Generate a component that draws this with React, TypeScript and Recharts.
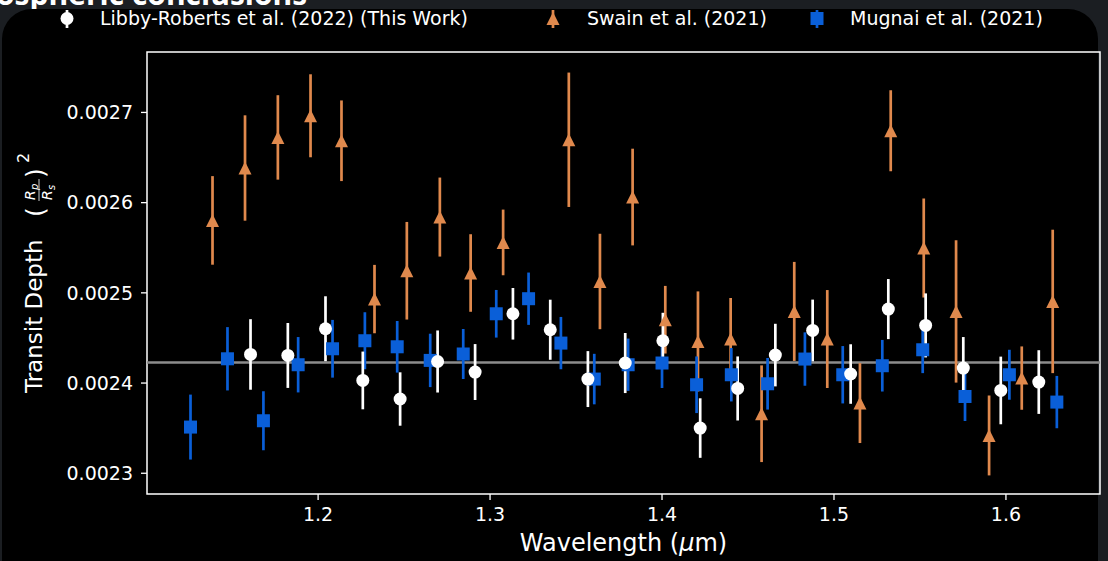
import React from 'react';
import { ScatterChart, Scatter, XAxis, YAxis, ErrorBar, ReferenceLine, ReferenceArea } from 'recharts';

// Libby-Roberts et al. (2022) (This Work)
const libbyWavelength = [1.1607, 1.1824, 1.2043, 1.2260, 1.2477, 1.2695, 1.2913, 1.3133, 1.3350, 1.3569, 1.3786, 1.4005, 1.4222, 1.4440, 1.4659, 1.4876, 1.5097, 1.5316, 1.5533, 1.5752, 1.5970, 1.6191];
const libbyDepth = [0.0024317, 0.0024306, 0.0024602, 0.0024029, 0.0023823, 0.0024239, 0.0024122, 0.0024768, 0.0024591, 0.0024044, 0.0024222, 0.0024469, 0.0023501, 0.0023940, 0.0024310, 0.0024583, 0.0024100, 0.0024820, 0.0024639, 0.0024166, 0.0023918, 0.0024011];
const libbyError = [0.0000391, 0.0000360, 0.0000360, 0.0000320, 0.0000296, 0.0000344, 0.0000310, 0.0000286, 0.0000333, 0.0000310, 0.0000333, 0.0000310, 0.0000330, 0.0000355, 0.0000347, 0.0000342, 0.0000330, 0.0000333, 0.0000355, 0.0000344, 0.0000375, 0.0000353];

// Swain et al. (2021)
const swainWavelength = [1.1386, 1.1575, 1.1766, 1.1956, 1.2136, 1.2328, 1.2516, 1.2708, 1.2887, 1.3076, 1.3458, 1.3639, 1.3829, 1.4019, 1.4209, 1.4399, 1.4579, 1.4769, 1.4961, 1.5151, 1.5330, 1.5522, 1.5710, 1.5902, 1.6092, 1.6272];
const swainDepth = [0.0025803, 0.0026384, 0.0026723, 0.0026963, 0.0026686, 0.0024931, 0.0025245, 0.0025840, 0.0025220, 0.0025559, 0.0026697, 0.0025126, 0.0026062, 0.0024702, 0.0024461, 0.0024488, 0.0023660, 0.0024794, 0.0024488, 0.0023778, 0.0026797, 0.0025497, 0.0024794, 0.0023419, 0.0024055, 0.0024905];
const swainError = [0.0000491, 0.0000584, 0.0000468, 0.0000460, 0.0000447, 0.0000379, 0.0000541, 0.0000438, 0.0000430, 0.0000364, 0.0000745, 0.0000529, 0.0000536, 0.0000375, 0.0000555, 0.0000455, 0.0000536, 0.0000549, 0.0000543, 0.0000443, 0.0000449, 0.0000549, 0.0000789, 0.0000443, 0.0000351, 0.0000795];

// Mugnai et al. (2021)
const mugnaiWavelength = [1.1258, 1.1473, 1.1682, 1.1884, 1.2084, 1.2272, 1.2460, 1.2652, 1.2844, 1.3036, 1.3224, 1.3412, 1.3606, 1.3803, 1.4000, 1.4201, 1.4403, 1.4614, 1.4831, 1.5051, 1.5281, 1.5516, 1.5762, 1.6020, 1.6296];
const mugnaiDepth = [0.0023512, 0.0024269, 0.0023582, 0.0024203, 0.0024380, 0.0024469, 0.0024402, 0.0024251, 0.0024322, 0.0024768, 0.0024935, 0.0024443, 0.0024044, 0.0024203, 0.0024222, 0.0023981, 0.0024092, 0.0023992, 0.0024266, 0.0024092, 0.0024192, 0.0024369, 0.0023851, 0.0024092, 0.0023789];
const mugnaiError = [0.0000360, 0.0000351, 0.0000327, 0.0000307, 0.0000320, 0.0000316, 0.0000286, 0.0000296, 0.0000277, 0.0000264, 0.0000290, 0.0000290, 0.0000280, 0.0000290, 0.0000277, 0.0000314, 0.0000296, 0.0000286, 0.0000296, 0.0000318, 0.0000286, 0.0000259, 0.0000272, 0.0000277, 0.0000290];

const flatModel = 0.0024228;
const xTicks = [1.2, 1.3, 1.4, 1.5, 1.6];
const yTicks = [0.0023, 0.0024, 0.0025, 0.0026, 0.0027];
const xDomain = [1.1005, 1.6547];
const yDomain = [0.002277, 0.002767];

const seriesNames = ['Libby-Roberts et al. (2022) (This Work)', 'Swain et al. (2021)', 'Mugnai et al. (2021)'];

const build = (xs: number[], ys: number[], es: number[]) => xs.map((x, i) => ({ x, y: ys[i], err: es[i] }));
const libbyData = build(libbyWavelength, libbyDepth, libbyError);
const swainData = build(swainWavelength, swainDepth, swainError);
const mugnaiData = build(mugnaiWavelength, mugnaiDepth, mugnaiError);

const WHITE = '#ffffff';
const ORANGE = '#e0894d';
const BLUE = '#0a5fd8';
const FONT = 'DejaVu Sans';

const CircleShape = (p: any) => <circle cx={p.cx} cy={p.cy} r={6.5} fill={WHITE} />;
const SquareShape = (p: any) => <rect x={p.cx - 6.5} y={p.cy - 6.5} width={13} height={13} fill={BLUE} />;
const TriangleShape = (p: any) => (
  <path d={`M${p.cx},${p.cy - 6.5} L${p.cx + 6.5},${p.cy + 6.5} L${p.cx - 6.5},${p.cy + 6.5} Z`} fill={ORANGE} />
);

const YLabel = () => (
  <g transform="translate(42,393) rotate(-90)" fill={WHITE} fontFamily={FONT}>
    <text x={0} y={0} fontSize={23}>Transit Depth</text>
    <text x={176} y={2} fontSize={25}>(</text>
    <text x={193} y={-7} fontSize={14} fontStyle="italic">R</text>
    <text x={203} y={-4} fontSize={10} fontStyle="italic">p</text>
    <line x1={192} x2={214} y1={-3} y2={-3} stroke={WHITE} strokeWidth={0.8} />
    <text x={193} y={10} fontSize={14} fontStyle="italic">R</text>
    <text x={203} y={13} fontSize={10} fontStyle="italic">s</text>
    <text x={215} y={2} fontSize={25}>)</text>
    <text x={230} y={-13} fontSize={16}>2</text>
  </g>
);

const XLabel = () => (
  <text x={623.5} y={551} textAnchor="middle" fill={WHITE} fontFamily={FONT} fontSize={24}>
    Wavelength (<tspan fontStyle="italic">μ</tspan>m)
  </text>
);

const LegendBar = () => (
  <svg width={1108} height={40} style={{ position: 'absolute', left: 0, top: 0 }} fontFamily={FONT}>
    <line x1={67} x2={67} y1={10} y2={28} stroke={WHITE} strokeWidth={2.7} />
    <circle cx={67} cy={18.5} r={6.5} fill={WHITE} />
    <text x={100} y={25} fill={WHITE} fontSize={19}>{seriesNames[0]}</text>
    <line x1={553} x2={553} y1={10} y2={28} stroke={ORANGE} strokeWidth={2.7} />
    <path d="M553,12 L559.5,25 L546.5,25 Z" fill={ORANGE} />
    <text x={587} y={25} fill={WHITE} fontSize={19}>{seriesNames[1]}</text>
    <line x1={817} x2={817} y1={10} y2={28} stroke={BLUE} strokeWidth={2.7} />
    <rect x={810.5} y={12} width={13} height={13} fill={BLUE} />
    <text x={850} y={25} fill={WHITE} fontSize={19}>{seriesNames[2]}</text>
  </svg>
);

export default function App() {
  return (
    <div style={{ position: 'absolute', left: 0, top: 0, width: 1108, height: 561, overflow: 'hidden', background: '#1b1e22' }}>
      <svg width={1108} height={561} style={{ position: 'absolute', left: 0, top: 0 }}>
        <text x={-4} y={5} fill={WHITE} fontFamily="Open Sans" fontWeight={700} fontSize={30}>ospheric conclusions</text>
        <rect x={2} y={9} width={1096} height={620} rx={30} fill="#000000" />
      </svg>
      <div style={{ position: 'absolute', left: 0, top: 0 }}>
        <ScatterChart width={1108} height={561} margin={{ top: 52, right: 8, bottom: 0, left: 0 }}>
          <XAxis
            type="number"
            dataKey="x"
            domain={xDomain}
            ticks={xTicks}
            allowDataOverflow
            height={67}
            axisLine={false}
            tickLine={{ stroke: WHITE, strokeWidth: 1.3 }}
            tickSize={6}
            tickMargin={8}
            tick={{ fill: WHITE, fontSize: 19, fontFamily: FONT }}
            tickFormatter={(v: number) => v.toFixed(1)}
            label={{ content: XLabel }}
          />
          <YAxis
            type="number"
            dataKey="y"
            domain={yDomain}
            ticks={yTicks}
            allowDataOverflow
            width={147}
            axisLine={false}
            tickLine={{ stroke: WHITE, strokeWidth: 1.3 }}
            tickSize={6}
            tickMargin={8}
            tick={{ fill: WHITE, fontSize: 19, fontFamily: FONT }}
            tickFormatter={(v: number) => v.toFixed(4)}
            label={{ content: YLabel }}
          />
          <ReferenceLine y={flatModel} stroke="#8c8c8c" strokeWidth={2.5} />
          <Scatter name={seriesNames[1]} data={swainData} shape={TriangleShape} isAnimationActive={false}>
            <ErrorBar dataKey="err" direction="y" width={0} stroke={ORANGE} strokeWidth={2.7} />
          </Scatter>
          <Scatter name={seriesNames[2]} data={mugnaiData} shape={SquareShape} isAnimationActive={false}>
            <ErrorBar dataKey="err" direction="y" width={0} stroke={BLUE} strokeWidth={2.7} />
          </Scatter>
          <Scatter name={seriesNames[0]} data={libbyData} shape={CircleShape} isAnimationActive={false}>
            <ErrorBar dataKey="err" direction="y" width={0} stroke={WHITE} strokeWidth={2.7} />
          </Scatter>
          <ReferenceArea x1={xDomain[0]} x2={xDomain[1]} y1={yDomain[0]} y2={yDomain[1]} fill="none" stroke={WHITE} strokeWidth={1.5} />
        </ScatterChart>
      </div>
      <LegendBar />
    </div>
  );
}
